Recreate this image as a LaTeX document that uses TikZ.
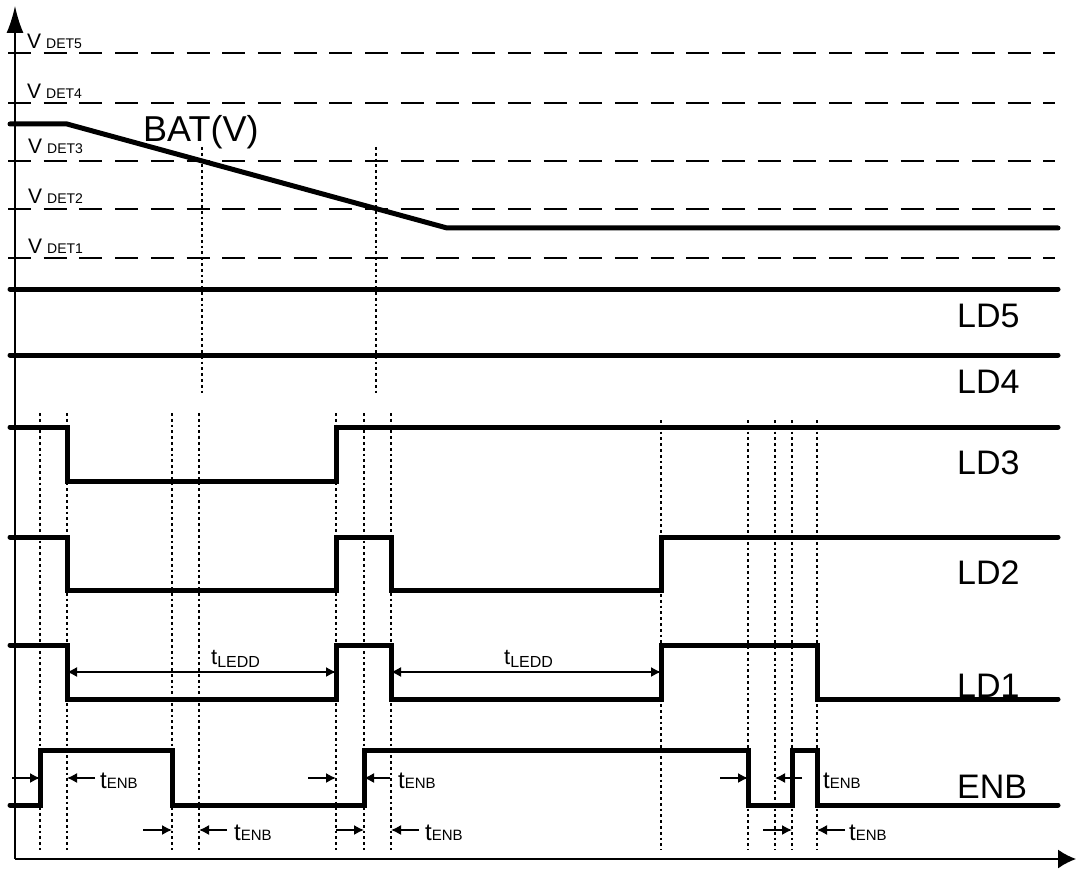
\documentclass[tikz,border=0pt]{standalone}
\usepackage{fontspec}
\setmainfont{Liberation Sans}
\usetikzlibrary{arrows.meta}
\tikzset{
  axis/.style={line width=1.5pt},
  wave/.style={line width=5pt, line cap=round},
  vlevel/.style={line width=2.8pt, dash pattern=on 23pt off 12.7pt},
  guide/.style={line width=2.4pt, dash pattern=on 2.8pt off 3pt},
  dimto/.style={line width=1.4pt, -{Latex[length=10pt,width=10pt]}},
  dimboth/.style={line width=1.4pt, {Latex[length=10pt,width=10pt]}-{Latex[length=10pt,width=10pt]}},
  lbl/.style={anchor=base west, inner sep=0pt},
  ldlbl/.style={anchor=base west, inner sep=0pt, font=\fontsize{34}{34}\selectfont},
}
\newcommand{\vdetlbl}[1]{{\fontsize{21}{21}\selectfont V}\hspace{5pt}{\fontsize{14}{14}\selectfont DET#1}}
\newcommand{\tenblbl}{{\fontsize{24}{24}\selectfont t}{\fontsize{15}{15}\selectfont ENB}}
\newcommand{\tleddlbl}{{\fontsize{22}{22}\selectfont t}\raisebox{-3pt}{\fontsize{16}{16}\selectfont LEDD}}
\begin{document}
\begin{tikzpicture}[x=1pt, y=-1pt]
		\useasboundingbox (0,0) rectangle (1076,869);
		
		% Các mốc thời gian
		\pgfmathsetmacro{\tA}{40}
		\pgfmathsetmacro{\tB}{67}
		\pgfmathsetmacro{\tC}{172}
		\pgfmathsetmacro{\tD}{199}
		\pgfmathsetmacro{\tE}{336}
		\pgfmathsetmacro{\tF}{364}
		\pgfmathsetmacro{\tG}{391}
		\pgfmathsetmacro{\tH}{661}
		\pgfmathsetmacro{\tI}{748}
		\pgfmathsetmacro{\tJ}{775}
		\pgfmathsetmacro{\tK}{792}
		\pgfmathsetmacro{\tL}{817}
		\pgfmathsetmacro{\xEnd}{1058}
		
		% Trục tọa độ
		\coordinate (O) at (15,859);
		\coordinate (Y) at (15,6);
		\coordinate (X) at (1076,859);
		\draw[axis, -{Latex[length=27pt,width=17pt]}] (O) -- (Y);
		\draw[axis, -{Latex[length=18pt,width=19pt]}] (O) -- (X);
		
		% Các mức V_DET
		\draw[vlevel] (8,53) -- (1055,53);
		\draw[vlevel] (8,103) -- (1055,103);
		\draw[vlevel] (8,161) -- (1055,161);
		\draw[vlevel] (8,209) -- (1055,209);
		\draw[vlevel] (8,258) -- (1055,258);
		\node[lbl] (vdet5) at (27,49) {\vdetlbl{5}};
		\node[lbl] (vdet4) at (27,99) {\vdetlbl{4}};
		\node[lbl] (vdet3) at (28,154) {\vdetlbl{3}};
		\node[lbl] (vdet2) at (28,204) {\vdetlbl{2}};
		\node[lbl] (vdet1) at (28,253) {\vdetlbl{1}};
		
		% Đường BAT(V)
		\draw[wave] (10,124) -- (\tB,124) -- (447,228) -- (\xEnd,228);
		\node[lbl, font=\fontsize{36}{36}\selectfont] (bat) at (143,142) {BAT(V)};
		
		% Đường gióng từ các giao điểm của BAT
		\draw[guide] (202,147) -- (202,393);
		\draw[guide] (376,147) -- (376,393);
		
		% Đường gióng thời gian
		\draw[guide] (\tA,413) -- (\tA,850);
		\draw[guide] (\tB,413) -- (\tB,850);
		\draw[guide] (\tC,413) -- (\tC,850);
		\draw[guide] (\tD,413) -- (\tD,850);
		\draw[guide] (\tE,413) -- (\tE,850);
		\draw[guide] (\tF,413) -- (\tF,850);
		\draw[guide] (\tG,413) -- (\tG,850);
		\draw[guide] (\tH,420) -- (\tH,850);
		\draw[guide] (\tI,420) -- (\tI,850);
		\draw[guide] (\tJ,420) -- (\tJ,850);
		\draw[guide] (\tK,420) -- (\tK,850);
		\draw[guide] (\tL,420) -- (\tL,850);
		
		% LD5, LD4
		\draw[wave] (10,289) -- (\xEnd,289);
		\draw[wave] (10,355) -- (\xEnd,355);
		\node[ldlbl] (ld5) at (957,327) {LD5};
		\node[ldlbl] (ld4) at (957,393) {LD4};
		
		% LD3
		\draw[wave] (10,427) -- (\tB,427) -- (\tB,481) -- (\tE,481) -- (\tE,427) -- (\xEnd,427);
		\node[ldlbl] (ld3) at (957,474) {LD3};
		
		% LD2
		\draw[wave] (10,537) -- (\tB,537) -- (\tB,590) -- (\tE,590) -- (\tE,537) -- (\tG,537)
			-- (\tG,590) -- (\tH,590) -- (\tH,537) -- (\xEnd,537);
		\node[ldlbl] (ld2) at (957,584) {LD2};
		
		% LD1
		\draw[wave] (10,645) -- (\tB,645) -- (\tB,699) -- (\tE,699) -- (\tE,645) -- (\tG,645)
			-- (\tG,699) -- (\tH,699) -- (\tH,645) -- (\tL,645) -- (\tL,699) -- (\xEnd,699);
		\node[ldlbl] (ld1) at (957,697) {LD1};
		
		% ENB
		\draw[wave] (10,805) -- (\tA,805) -- (\tA,750) -- (\tC,750) -- (\tC,805) -- (\tF,805)
			-- (\tF,750) -- (\tI,750) -- (\tI,805) -- (\tK,805) -- (\tK,750) -- (\tL,750)
			-- (\tL,805) -- (\xEnd,805);
		\node[ldlbl] (enb) at (957,798) {ENB};
		
		% Khoảng t_LEDD
		\coordinate (la1) at (\tB,672);
		\coordinate (lb1) at (\tE,672);
		\coordinate (la2) at (\tG,672);
		\coordinate (lb2) at (\tH,672);
		\draw[dimboth] (la1) -- (lb1);
		\draw[dimboth] (la2) -- (lb2);
		\node[lbl] (tledd1) at (211,664) {\tleddlbl};
		\node[lbl] (tledd2) at (504,664) {\tleddlbl};
		
		% Khoảng t_ENB (hàng trên)
		\coordinate (ua) at (\tA,778);
		\coordinate (ub) at (\tB,778);
		\coordinate (ue) at (\tE,778);
		\coordinate (uf) at (\tF,778);
		\coordinate (ui) at (\tI,778);
		\coordinate (uj) at (\tJ,778);
		\draw[dimto] ([xshift=-28pt]ua) -- (ua);
		\draw[dimto] ([xshift=28pt]ub) -- (ub);
		\draw[dimto] ([xshift=-28pt]ue) -- (ue);
		\draw[dimto] ([xshift=26pt]uf) -- (uf);
		\draw[dimto] ([xshift=-28pt]ui) -- (ui);
		\draw[dimto] ([xshift=27pt]uj) -- (uj);
		\node[lbl] (tenb1) at (100,788) {\tenblbl};
		\node[lbl] (tenb2) at (398,788) {\tenblbl};
		\node[lbl] (tenb3) at (823,788) {\tenblbl};
		
		% Khoảng t_ENB (hàng dưới)
		\coordinate (dc) at (\tC,830);
		\coordinate (dd) at (\tD,830);
		\coordinate (de) at (\tE,830);
		\coordinate (df) at (\tF,830);
		\coordinate (dg) at (\tG,830);
		\coordinate (dk) at (\tK,830);
		\coordinate (dl) at (\tL,830);
		\draw[dimto] ([xshift=-29pt]dc) -- (dc);
		\draw[dimto] ([xshift=28pt]dd) -- (dd);
		\draw[dimto] (de) -- (df);
		\draw[dimto] ([xshift=28pt]dg) -- (dg);
		\draw[dimto] ([xshift=-29pt]dk) -- (dk);
		\draw[dimto] ([xshift=28pt]dl) -- (dl);
		\node[lbl] (tenb4) at (234,840) {\tenblbl};
		\node[lbl] (tenb5) at (425,840) {\tenblbl};
		\node[lbl] (tenb6) at (849,840) {\tenblbl};
\end{tikzpicture}
\end{document}
